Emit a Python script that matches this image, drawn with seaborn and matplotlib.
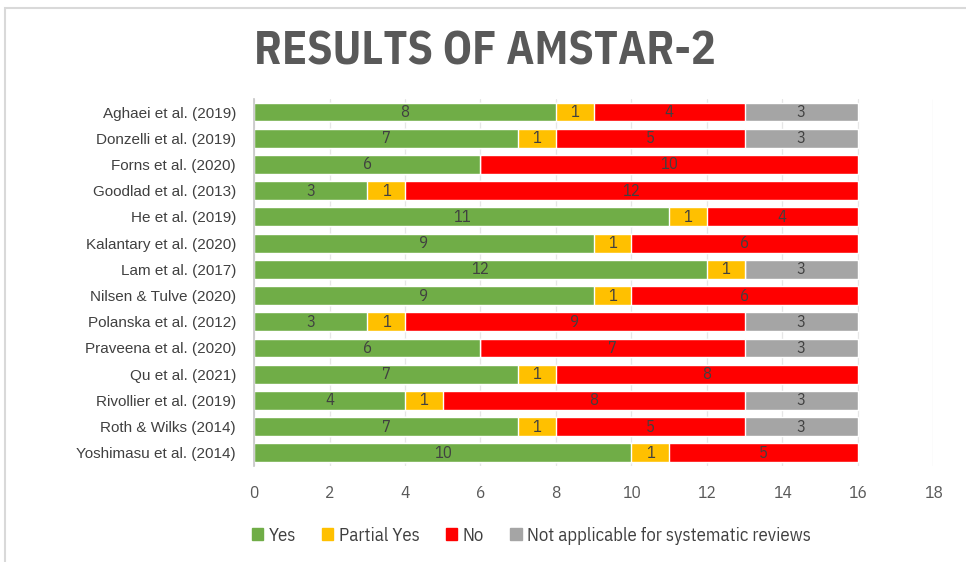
import matplotlib
matplotlib.use("Agg")
import matplotlib.pyplot as plt
import seaborn as sns
import pandas as pd
import numpy as np
from matplotlib.patches import Rectangle

studies = ["Aghaei et al. (2019)", "Donzelli et al. (2019)", "Forns et al. (2020)",
           "Goodlad et al. (2013)", "He et al. (2019)", "Kalantary et al. (2020)",
           "Lam et al. (2017)", "Nilsen & Tulve (2020)", "Polanska et al. (2012)",
           "Praveena et al. (2020)", "Qu et al. (2021)", "Rivollier et al. (2019)",
           "Roth & Wilks (2014)", "Yoshimasu et al. (2014)"]
yes = [8, 7, 6, 3, 11, 9, 12, 9, 3, 6, 7, 4, 7, 10]
partial_yes = [1, 1, 0, 1, 1, 1, 1, 1, 1, 0, 1, 1, 1, 1]
no = [4, 5, 10, 12, 4, 6, 0, 6, 9, 7, 8, 8, 5, 5]
not_applicable = [3, 3, 0, 0, 0, 0, 3, 0, 3, 3, 0, 3, 3, 0]

series_names = ["Yes", "Partial Yes", "No", "Not applicable for systematic reviews"]
series_values = [yes, partial_yes, no, not_applicable]
colors = ["#70AD47", "#FFC000", "#FF0000", "#A5A5A5"]
xticks = [0, 2, 4, 6, 8, 10, 12, 14, 16, 18]

narrow = ["IBM Plex Sans Condensed", "DejaVu Sans"]
title_font = ["IBM Plex Sans Condensed", "DejaVu Sans"]

sns.set_theme(style="white")
plt.rcParams["font.family"] = ["Liberation Sans", "DejaVu Sans"]

fig = plt.figure(figsize=(9.66, 5.62), dpi=100)
ax = fig.add_axes([0.263, 0.171, 0.966 - 0.263, 0.824 - 0.171])

df = pd.DataFrame({"study": studies})
cum = np.zeros(len(studies))
cums = []
for vals in series_values:
    cum = cum + np.array(vals)
    cums.append(cum.copy())

# draw cumulative totals from largest to smallest so they stack visually
for i in range(len(series_values) - 1, -1, -1):
    d = df.copy()
    d["value"] = cums[i]
    sns.barplot(data=d, x="value", y="study", color=colors[i], orient="h",
                width=0.72, ax=ax, saturation=1)

# labels
for i, vals in enumerate(series_values):
    for j, v in enumerate(vals):
        if v > 0:
            ax.text(cums[i][j] - v / 2, j, str(v), ha="center", va="center",
                    fontsize=12, color="#404040", family=narrow)

ax.set_xlim(0, 18)
ax.set_xticks(xticks)
ax.set_xticklabels([str(t) for t in xticks], fontsize=12.5, color="#595959", family=narrow)
ax.tick_params(axis="x", length=0, pad=14)
ax.tick_params(axis="y", length=0, pad=13, labelsize=11, labelcolor="#404040")
ax.set_xlabel("")
ax.set_ylabel("")
ax.grid(axis="x", color="#E6E6E6", linewidth=0.9)
ax.set_axisbelow(True)
for s in ["top", "right", "bottom"]:
    ax.spines[s].set_visible(False)
ax.spines["left"].set_color("#C8C8C8")
ax.set_ylim(13.5, -0.5)

handles = [Rectangle((0, 0), 1, 1, color=c) for c in colors]
leg = fig.legend(handles, series_names, loc="center", bbox_to_anchor=(0.55, 0.047),
                 ncol=4, frameon=False, handlelength=0.6, handleheight=0.6,
                 handletextpad=0.3, columnspacing=1.4,
                 prop={"family": narrow, "size": 13.5})
for t in leg.get_texts():
    t.set_color("#404040")

fig.text(0.502, 0.908, "RESULTS OF AMSTAR-2", ha="center", va="center",
         fontsize=33, fontweight="bold", color="#595959", family=title_font)

fig.patches.append(Rectangle((0.005, -0.02), 1.1, 0.986 + 0.02, transform=fig.transFigure,
                             fill=False, edgecolor="#D9D9D9", linewidth=1.5))

fig.savefig("out.png", dpi=100)
